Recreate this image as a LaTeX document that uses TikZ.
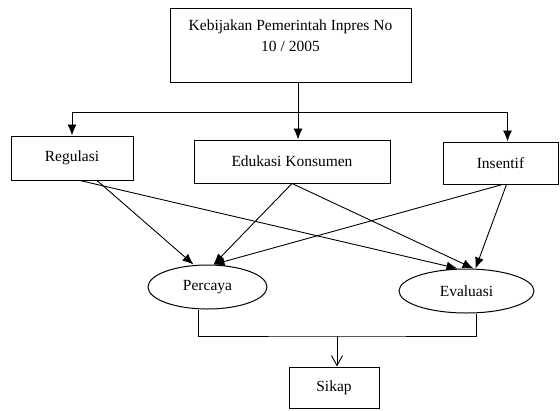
\documentclass[tikz,border=0pt]{standalone}
\usepackage{fontspec}
\setmainfont{Liberation Serif}
\usetikzlibrary{arrows.meta,shapes.geometric}
\tikzset{
	kotak/.style={draw, line width=1pt, rectangle, inner sep=0pt, align=center},
	elips/.style={draw, line width=1pt, ellipse, inner sep=0pt},
	panah/.style={line width=0.9pt, -{Latex[length=11pt,width=9pt]}},
	panahbuka/.style={line width=0.9pt, -{Straight Barb[length=10pt,width=11pt]}},
	garis/.style={line width=0.9pt}
}

\begin{document}
\begin{tikzpicture}[x=1pt, y=-1pt, font=\fontsize{15.5}{21}\selectfont]
		%%%%% START %%%%%
		\useasboundingbox (0, 0) rectangle (560, 410);
		
		\node[kotak, minimum width=241pt, minimum height=74pt] (kebijakan) at (290.5, 45) {};
		\node[align=center, inner sep=0pt] (judul) at (290.5, 36) {Kebijakan Pemerintah Inpres No\\10 / 2005};
		
		\node[kotak, minimum width=122pt, minimum height=44pt] (regulasi) at (72, 158) {Regulasi};
		\node[kotak, minimum width=196pt, minimum height=43pt] (edukasi) at (292, 161.5) {Edukasi Konsumen};
		\node[kotak, minimum width=115pt, minimum height=42pt] (insentif) at (500.5, 163) {Insentif};
		
		\node[elips, minimum width=119pt, minimum height=44pt] (percaya) at (207.5, 287) {Percaya};
		\node[elips, minimum width=135pt, minimum height=44pt] (evaluasi) at (466.5, 291) {Evaluasi};
		
		\node[kotak, minimum width=90pt, minimum height=41pt] (sikap) at (334, 387.5) {Sikap};
		
		% cabang dari kebijakan
		\coordinate (cabang) at (298, 112);
		\draw[garis] (kebijakan.south -| cabang) -- (cabang);
		\draw[panah] (cabang) -| (regulasi.north);
		\draw[panah] (cabang) -- (edukasi.north -| cabang);
		\draw[panah] (cabang) -| ([xshift=7pt]insentif.north);
		
		% ke percaya dan evaluasi
		\draw[panah] ([xshift=25pt]regulasi.south) -- ([xshift=-14pt]percaya.north);
		\draw[panah] ([xshift=8pt]regulasi.south) -- ([xshift=-9pt]evaluasi.north);
		\draw[panah] (edukasi.south) -- ([xshift=6pt]percaya.north);
		\draw[panah] (edukasi.south) -- ([xshift=7pt]evaluasi.north);
		\draw[panah] ([xshift=2pt]insentif.south) -- ([xshift=6pt]percaya.north);
		\draw[panah] ([xshift=6pt]insentif.south) -- ([xshift=9pt]evaluasi.north);
		
		% gabung ke sikap
		\coordinate (gabung) at (337, 336);
		\draw[garis] ([xshift=-9pt]percaya.south) |- (gabung) -| ([xshift=10pt]evaluasi.south);
		\draw[panahbuka] (gabung) -- (sikap.north -| gabung);
		
		%%%%% END %%%%%
\end{tikzpicture}
\end{document}
